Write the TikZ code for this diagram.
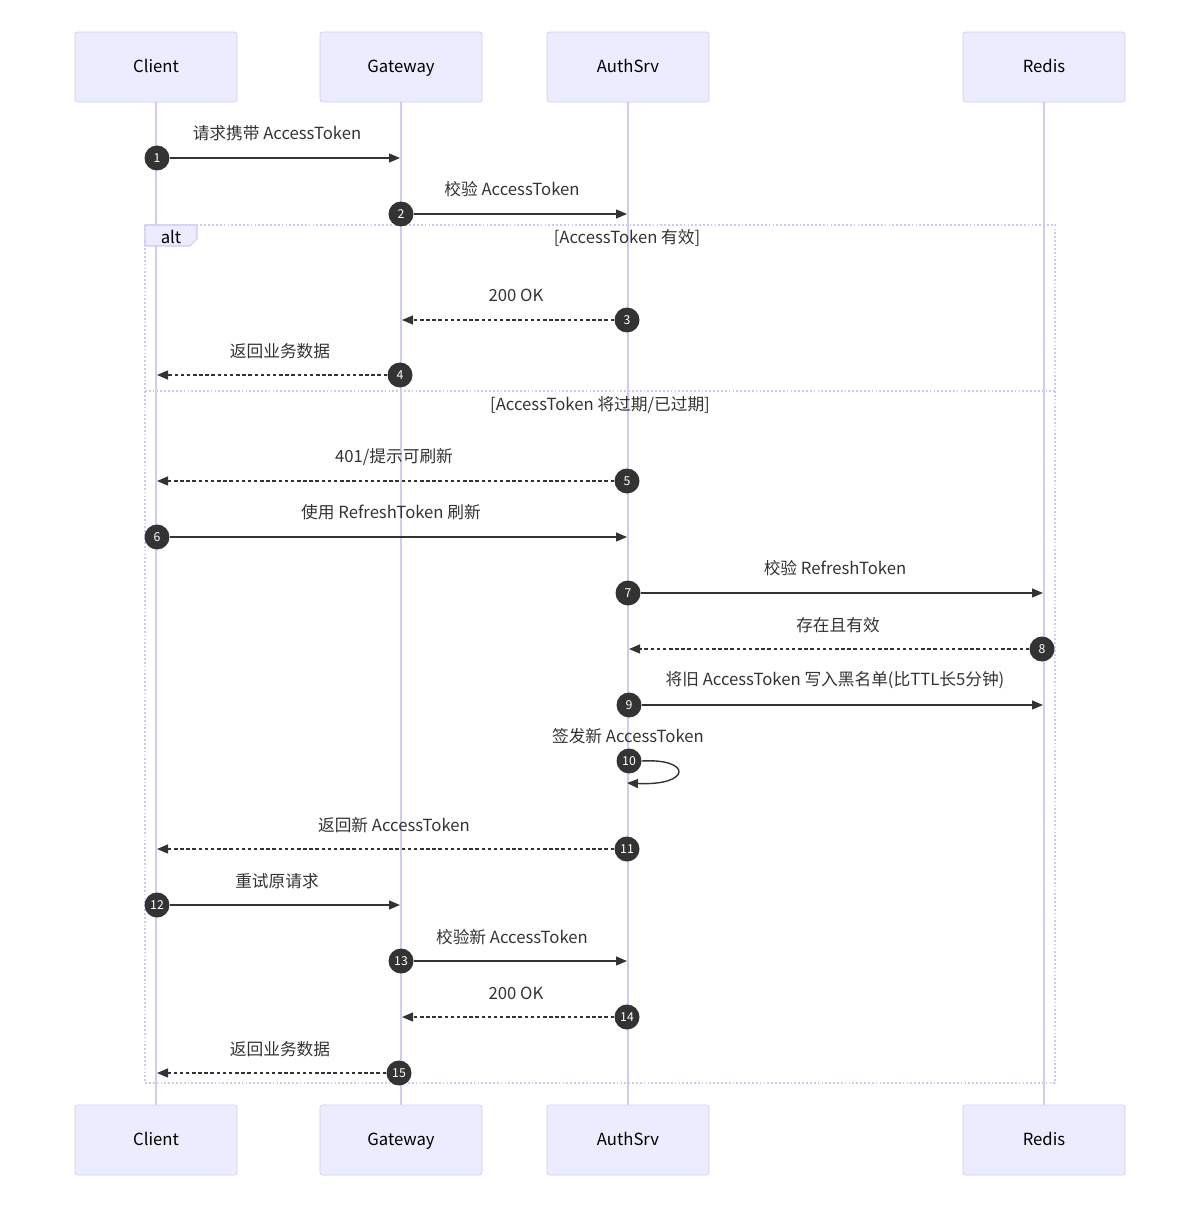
\documentclass[tikz,border=0pt]{standalone}
\usepackage{fontspec}
\setmainfont{Noto Sans CJK SC}
\usetikzlibrary{arrows.meta,positioning}
\definecolor{actfill}{HTML}{ECECFF}
\definecolor{actline}{HTML}{D3CBEF}
\definecolor{ink}{HTML}{333333}
\definecolor{altline}{HTML}{CFC8F0}

\begin{document}
\begin{tikzpicture}[x=0.02cm,y=-0.02cm]
    \tikzstyle{actor}=[draw=actline, fill=actfill, rounded corners=1.5pt, minimum width=3.24cm, minimum height=1.4cm, text height=1.6ex, text depth=0.45ex, font=\fontsize{9.5}{11}\selectfont]
    \tikzstyle{life}=[draw=actline, line width=0.9pt]
    \tikzstyle{num}=[circle, fill=ink, text=white, minimum size=0.5cm, inner sep=0pt, font=\fontsize{7}{8}\selectfont]
    \tikzstyle{msg}=[-{Triangle[length=0.22cm,width=0.18cm]}, draw=ink, line width=0.8pt]
    \tikzstyle{reply}=[msg, dash pattern=on 2pt off 1.5pt]
    \tikzstyle{lbl}=[font=\fontsize{9.5}{11}\selectfont, text=ink]
    \tikzstyle{alt}=[draw=altline, line width=0.8pt, dash pattern=on 1pt off 1.2pt]
    \useasboundingbox (0,0) rectangle (1200,1209);
    % participants
    \node[actor] (client) at (156,67) {Client};
    \node[actor] (gateway) at (401,67) {Gateway};
    \node[actor] (authsrv) at (628,67) {AuthSrv};
    \node[actor] (redis) at (1044,67) {Redis};
    \node[actor] (clientB) at (156,1140) {Client};
    \node[actor] (gatewayB) at (401,1140) {Gateway};
    \node[actor] (authsrvB) at (628,1140) {AuthSrv};
    \node[actor] (redisB) at (1044,1140) {Redis};
    \draw[life] (client) -- (clientB);
    \draw[life] (gateway) -- (gatewayB);
    \draw[life] (authsrv) -- (authsrvB);
    \draw[life] (redis) -- (redisB);
    % alt frame
    \draw[alt] (145,225) rectangle (1055,1083);
    \draw[alt] (145,391) -- (1055,391);
    \draw[altline, fill=actfill, line width=0.6pt] (145,225) -- (197,225) -- (197,239) -- (190,246) -- (145,246) -- cycle;
    \node[lbl, text=black] (alttag) at (171,237) {alt};
    \node[lbl] (case1) at (627,238) {[AccessToken 有效]};
    \node[lbl] (case2) at (600,405) {[AccessToken 将过期/已过期]};
    % messages
    \node[lbl] at (277,133) {请求携带 AccessToken};
    \coordinate (t1) at (400,158);
    \node[num] (m1) at (157,158) {1};
    \draw[msg] (m1) -- (t1);
    \node[lbl] at (512,189) {校验 AccessToken};
    \coordinate (t2) at (627,214);
    \node[num] (m2) at (401,214) {2};
    \draw[msg] (m2) -- (t2);
    \node[lbl] at (516,295) {200 OK};
    \coordinate (t3) at (402,320);
    \node[num] (m3) at (627,320) {3};
    \draw[reply] (m3) -- (t3);
    \node[lbl] at (280,351) {返回业务数据};
    \coordinate (t4) at (157,375);
    \node[num] (m4) at (400,375) {4};
    \draw[reply] (m4) -- (t4);
    \node[lbl] at (394,457) {401/提示可刷新};
    \coordinate (t5) at (157,481);
    \node[num] (m5) at (627,481) {5};
    \draw[reply] (m5) -- (t5);
    \node[lbl] at (391,512) {使用 RefreshToken 刷新};
    \coordinate (t6) at (627,537);
    \node[num] (m6) at (157,537) {6};
    \draw[msg] (m6) -- (t6);
    \node[lbl] at (835,568) {校验 RefreshToken};
    \coordinate (t7) at (1043,593);
    \node[num] (m7) at (628,593) {7};
    \draw[msg] (m7) -- (t7);
    \node[lbl] at (838,625) {存在且有效};
    \coordinate (t8) at (629,649);
    \node[num] (m8) at (1042,649) {8};
    \draw[reply] (m8) -- (t8);
    \node[lbl] at (835,680) {将旧 AccessToken 写入黑名单(比TTL长5分钟)};
    \coordinate (t9) at (1043,705);
    \node[num] (m9) at (629,705) {9};
    \draw[msg] (m9) -- (t9);
    \node[lbl] at (628,736) {签发新 AccessToken};
    \coordinate (t10) at (627,783);
    \node[num] (m10) at (629,761) {10};
    \draw[msg] (m10.east) .. controls (692,758) and (692,786) .. (t10);
    \node[lbl] at (394,825) {返回新 AccessToken};
    \coordinate (t11) at (157,849);
    \node[num] (m11) at (627,849) {11};
    \draw[reply] (m11) -- (t11);
    \node[lbl] at (277,881) {重试原请求};
    \coordinate (t12) at (400,905);
    \node[num] (m12) at (157,905) {12};
    \draw[msg] (m12) -- (t12);
    \node[lbl] at (512,937) {校验新 AccessToken};
    \coordinate (t13) at (627,961);
    \node[num] (m13) at (401,961) {13};
    \draw[msg] (m13) -- (t13);
    \node[lbl] at (516,993) {200 OK};
    \coordinate (t14) at (402,1017);
    \node[num] (m14) at (627,1017) {14};
    \draw[reply] (m14) -- (t14);
    \node[lbl] at (280,1049) {返回业务数据};
    \coordinate (t15) at (157,1073);
    \node[num] (m15) at (399,1073) {15};
    \draw[reply] (m15) -- (t15);
\end{tikzpicture}
\end{document}
